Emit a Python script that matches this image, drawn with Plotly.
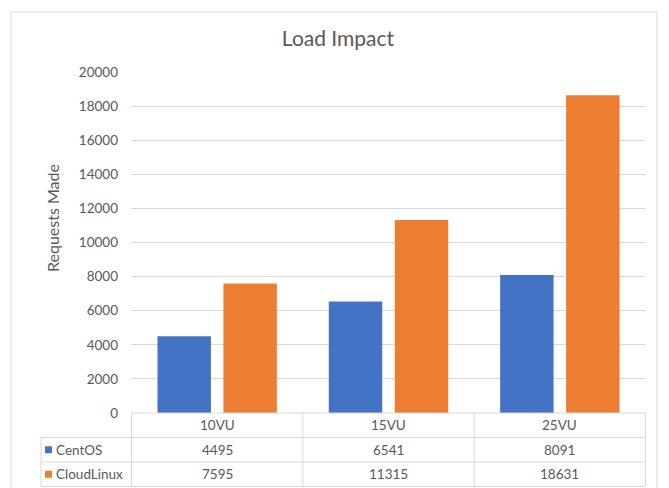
import plotly.graph_objects as go

categories = ["10VU", "15VU", "25VU"]
centos = [4495, 6541, 8091]
cloudlinux = [7595, 11315, 18631]
series_names = ["CentOS", "CloudLinux"]
y_ticks = [0, 2000, 4000, 6000, 8000, 10000, 12000, 14000, 16000, 18000, 20000]

W, H = 669, 488
L, R, T, B = 131, 23, 72, 75
PW = W - L - R
PH = H - T - B
FONT = "Lato"
TXT = "#595959"
GRID = "#d9d9d9"
FS = 13.5
colors = ["#4472C4", "#ED7D31"]


def px(x):
    return (x - L) / PW


def py(y):
    return (H - B - y) / PH


fig = go.Figure()
for name, vals, c in zip(series_names, [centos, cloudlinux], colors):
    fig.add_trace(go.Bar(x=categories, y=vals, name=name, marker=dict(color=c, line=dict(width=0))))

shapes = []
annotations = []

# chart border
shapes.append(dict(type="rect", xref="paper", yref="paper", x0=px(11), x1=px(657), y0=py(495), y1=py(12),
                   line=dict(color=GRID, width=1), fillcolor="rgba(0,0,0,0)", layer="below"))

# data table
row_lines = [413, 437.5, 462, 486.5]
n = len(categories)
for i in range(n + 1):
    shapes.append(dict(type="line", xref="x", yref="paper", x0=i - 0.5, x1=i - 0.5,
                       y0=py(413), y1=py(row_lines[-1]), line=dict(color=GRID, width=1)))
shapes.append(dict(type="line", xref="paper", yref="paper", x0=px(41), x1=px(41),
                   y0=py(row_lines[1]), y1=py(row_lines[-1]), line=dict(color=GRID, width=1)))
for k, yl in enumerate(row_lines):
    x0 = 0 if k == 0 else px(41)
    shapes.append(dict(type="line", xref="paper", yref="paper", x0=x0, x1=1,
                       y0=py(yl), y1=py(yl), line=dict(color=GRID, width=1)))

for i, c in enumerate(categories):
    annotations.append(dict(x=i, y=py((row_lines[0] + row_lines[1]) / 2), xref="x", yref="paper",
                            xanchor="center", yanchor="middle",
                            text=c, showarrow=False, font=dict(family=FONT, size=FS, color=TXT)))
for r, (name, vals, col) in enumerate(zip(series_names, [centos, cloudlinux], colors)):
    yc = (row_lines[r + 1] + row_lines[r + 2]) / 2
    for i, v in enumerate(vals):
        annotations.append(dict(x=i, y=py(yc), xref="x", yref="paper", text=str(v), showarrow=False,
                                xanchor="center", yanchor="middle",
                                font=dict(family=FONT, size=FS, color=TXT)))
    shapes.append(dict(type="rect", xref="paper", yref="paper", x0=px(45), x1=px(52),
                       y0=py(yc + 3.5), y1=py(yc - 3.5), line=dict(width=0), fillcolor=col))
    annotations.append(dict(x=px(54), y=py(yc), xref="paper", yref="paper", text=name, showarrow=False,
                            xanchor="left", yanchor="middle", font=dict(family=FONT, size=FS, color=TXT)))

annotations.append(dict(x=px(53), y=py(218), xref="paper", yref="paper", text="Requests Made",
                        xanchor="center", yanchor="middle",
                        textangle=-90, showarrow=False, font=dict(family=FONT, size=16, color=TXT)))

fig.update_layout(
    width=W, height=H,
    margin=dict(l=L, r=R, t=T, b=B, autoexpand=False),
    paper_bgcolor="white", plot_bgcolor="white",
    title=dict(text="Load Impact", xref="container", x=338 / W, xanchor="center",
               yref="container", y=1 - 39 / H, yanchor="middle",
               font=dict(family=FONT, size=21, color=TXT)),
    showlegend=False,
    barmode="group", bargap=0.23, bargroupgap=0.19,
    xaxis=dict(showticklabels=False, showgrid=False, zeroline=False, showline=False, ticks=""),
    yaxis=dict(range=[0, 20000], tickvals=y_ticks, ticktext=[str(v) for v in y_ticks],
               showgrid=True, gridcolor=GRID, gridwidth=1,
               zeroline=False, showline=False, ticks="", ticklen=0, ticklabelstandoff=12,
               tickfont=dict(family=FONT, size=FS, color=TXT)),
    shapes=shapes, annotations=annotations,
    font=dict(family=FONT, color=TXT),
)

fig.write_html("out.html")
